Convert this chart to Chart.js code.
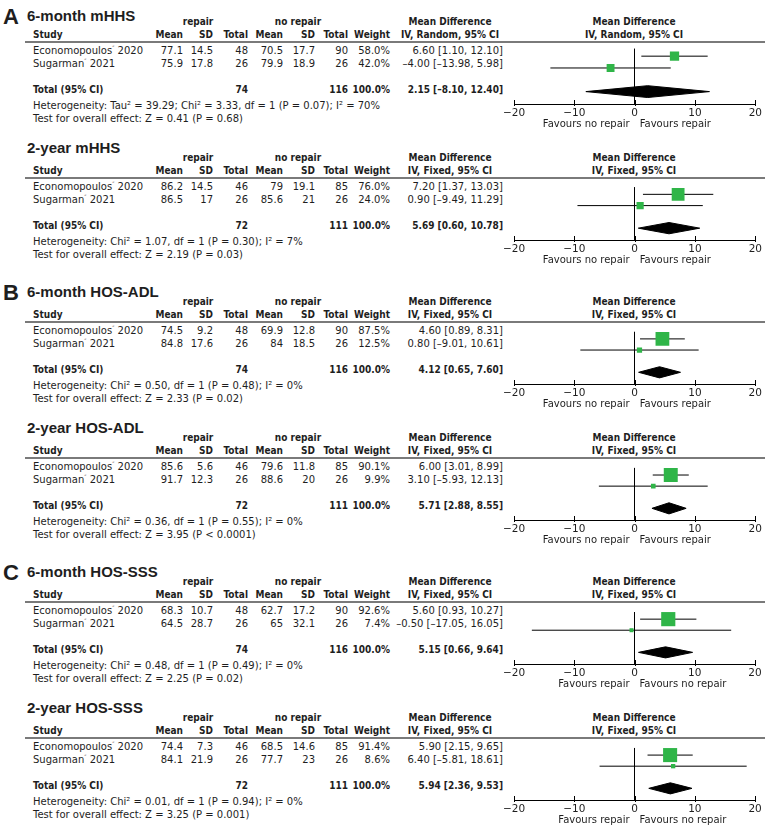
<!DOCTYPE html>
<html>
<head>
<meta charset="utf-8">
<script src="https://cdn.jsdelivr.net/npm/chart.js@4.4.1/dist/chart.umd.min.js"></script>
<style>
html, body { margin: 0; padding: 0; background: #fff; }
#fig { position: relative; width: 765px; height: 828px; overflow: hidden;
       font-family: "DejaVu Sans", sans-serif; font-size: 10px; color: #1e1e1e; }
.t { position: absolute; white-space: nowrap; line-height: 12px; }
.b { font-weight: bold; font-family: "DejaVu Sans Condensed", "DejaVu Sans", sans-serif; font-stretch: condensed; }
.ttl { font-family: "Liberation Sans", Arial, sans-serif; font-weight: bold; font-size: 15px; line-height: 18px; }
.let { font-family: "Liberation Sans", Arial, sans-serif; font-weight: bold; font-size: 22px; line-height: 24px; }
.rule { position: absolute; left: 25px; width: 740px; height: 2px; background: #7a7a7a; }
canvas { position: absolute; }
sup { font-size: 6px; vertical-align: 4px; line-height: 0; }
</style>
</head>
<body>
<div id="fig"></div>
<script>
// --- data ---
const panelLetters = ['A', '', 'B', '', 'C', ''];
const panelTitles = ['6-month mHHS', '2-year mHHS', '6-month HOS-ADL', '2-year HOS-ADL', '6-month HOS-SSS', '2-year HOS-SSS'];
const methods = ['Random', 'Fixed', 'Fixed', 'Fixed', 'Fixed', 'Fixed'];
const studyNames = ['Economopoulos', 'Sugarman'];
const studyYears = [2020, 2021];

const repairMean = [[77.1, 75.9], [86.2, 86.5], [74.5, 84.8], [85.6, 91.7], [68.3, 64.5], [74.4, 84.1]];
const repairSD = [[14.5, 17.8], [14.5, 17], [9.2, 17.6], [5.6, 12.3], [10.7, 28.7], [7.3, 21.9]];
const repairN = [[48, 26], [46, 26], [48, 26], [46, 26], [48, 26], [46, 26]];
const noRepairMean = [[70.5, 79.9], [79, 85.6], [69.9, 84], [79.6, 88.6], [62.7, 65], [68.5, 77.7]];
const noRepairSD = [[17.7, 18.9], [19.1, 21], [12.8, 18.5], [11.8, 20], [17.2, 32.1], [14.6, 23]];
const noRepairN = [[90, 26], [85, 26], [90, 26], [85, 26], [90, 26], [85, 26]];
const weights = [[58.0, 42.0], [76.0, 24.0], [87.5, 12.5], [90.1, 9.9], [92.6, 7.4], [91.4, 8.6]];

const md = [[6.60, -4.00], [7.20, 0.90], [4.60, 0.80], [6.00, 3.10], [5.60, -0.50], [5.90, 6.40]];
const ciLow = [[1.10, -13.98], [1.37, -9.49], [0.89, -9.01], [3.01, -5.93], [0.93, -17.05], [2.15, -5.81]];
const ciHigh = [[12.10, 5.98], [13.03, 11.29], [8.31, 10.61], [8.99, 12.13], [10.27, 16.05], [9.65, 18.61]];
const totalMD = [2.15, 5.69, 4.12, 5.71, 5.15, 5.94];
const totalLow = [-8.10, 0.60, 0.65, 2.88, 0.66, 2.36];
const totalHigh = [12.40, 10.78, 7.60, 8.55, 9.64, 9.53];

const heterogeneity = [
    'Tau² = 39.29; Chi² = 3.33, df = 1 (P = 0.07); I² = 70%',
    'Chi² = 1.07, df = 1 (P = 0.30); I² = 7%',
    'Chi² = 0.50, df = 1 (P = 0.48); I² = 0%',
    'Chi² = 0.36, df = 1 (P = 0.55); I² = 0%',
    'Chi² = 0.48, df = 1 (P = 0.49); I² = 0%',
    'Chi² = 0.01, df = 1 (P = 0.94); I² = 0%'
];
const overallTest = ['Z = 0.41 (P = 0.68)', 'Z = 2.19 (P = 0.03)', 'Z = 2.33 (P = 0.02)',
    'Z = 3.95 (P < 0.0001)', 'Z = 2.25 (P = 0.02)', 'Z = 3.25 (P = 0.001)'];
const favoursLeft = ['Favours no repair', 'Favours no repair', 'Favours no repair', 'Favours no repair', 'Favours repair', 'Favours repair'];
const favoursRight = ['Favours repair', 'Favours repair', 'Favours repair', 'Favours repair', 'Favours no repair', 'Favours no repair'];
const xTicks = [-20, -10, 0, 10, 20];

// --- layout ---
const fig = document.getElementById('fig');
const ruleY = [42, 178, 322, 458, 602, 738];
const titleDy = [-26, -30, -30, -30, -30, -30];
const col = { study: 33, m1: 183, sd1: 213, n1: 248, m2: 283, sd2: 315, n2: 348, w: 390, ci: 503 };
const GREEN = '#2fb548';

// if no condensed bold face is installed, tighten the bold text instead
(function () {
    const c = document.createElement('canvas').getContext('2d');
    c.font = 'bold 10px "DejaVu Sans Condensed"';
    const wc = c.measureText('100.0% Weight').width;
    c.font = 'bold 10px "DejaVu Sans"';
    const wn = c.measureText('100.0% Weight').width;
    if (Math.abs(wc - wn) < 1) {
        const st = document.createElement('style');
        st.textContent = '.b{letter-spacing:-0.55px;}';
        document.head.appendChild(st);
    }
})();

function put(x, y, html, align, cls) {
    const d = document.createElement('div');
    d.className = 't ' + (cls || '');
    d.innerHTML = html;
    d.style.left = x + 'px';
    d.style.top = y + 'px';
    const tx = align === 'r' ? '-100%' : (align === 'c' ? '-50%' : '0');
    d.style.transform = 'translate(' + tx + ',-50%)';
    fig.appendChild(d);
}
const fmt = v => v < 0 ? '–' + Math.abs(v).toFixed(2) : v.toFixed(2);
const ciText = (m, lo, hi) => fmt(m) + ' [' + fmt(lo) + ', ' + fmt(hi) + ']';

// axis ticks through the line + "Favours" labels either side of zero
const forestAxis = {
    id: 'forestAxis',
    afterDraw(chart, args, opts) {
        const { ctx, chartArea, scales: { x } } = chart;
        const y0 = chartArea.bottom;
        ctx.save();
        ctx.strokeStyle = '#000';
        ctx.lineWidth = 1;
        xTicks.forEach(v => {
            const px = Math.round(x.getPixelForValue(v)) + 0.5;
            ctx.beginPath();
            ctx.moveTo(px, y0 - 4);
            ctx.lineTo(px, y0 + 2);
            ctx.stroke();
        });
        const zx = x.getPixelForValue(0);
        ctx.font = '10px "DejaVu Sans"';
        ctx.fillStyle = '#1e1e1e';
        ctx.textBaseline = 'middle';
        ctx.textAlign = 'right';
        ctx.fillText(opts.left, zx - 5, y0 + 20.5);
        ctx.textAlign = 'left';
        ctx.fillText(opts.right, zx + 5, y0 + 20.5);
        ctx.restore();
    }
};

panelTitles.forEach((title, p) => {
    const R = ruleY[p];
    if (panelLetters[p]) put(3, R + titleDy[p] + 1, panelLetters[p], 'l', 'let');
    put(27, R + titleDy[p], title, 'l', 'ttl');

    put(198, R - 20, 'repair', 'c', 'b');
    put(298, R - 20, 'no repair', 'c', 'b');
    put(col.study, R - 7, 'Study', 'l', 'b');
    put(col.m1, R - 7, 'Mean', 'r', 'b');
    put(col.sd1, R - 7, 'SD', 'r', 'b');
    put(col.n1, R - 7, 'Total', 'r', 'b');
    put(col.m2, R - 7, 'Mean', 'r', 'b');
    put(col.sd2, R - 7, 'SD', 'r', 'b');
    put(col.n2, R - 7, 'Total', 'r', 'b');
    put(col.w, R - 7, 'Weight', 'r', 'b');
    put(450, R - 20, 'Mean Difference', 'c', 'b');
    put(450, R - 7, 'IV, ' + methods[p] + ', 95% CI', 'c', 'b');
    put(634, R - 20, 'Mean Difference', 'c', 'b');
    put(634, R - 7, 'IV, ' + methods[p] + ', 95% CI', 'c', 'b');

    const rule = document.createElement('div');
    rule.className = 'rule';
    rule.style.top = (R - 1) + 'px';
    fig.appendChild(rule);

    const rowY = [R + 8.5, R + 22];
    studyNames.forEach((name, i) => {
        const y = rowY[i];
        put(col.study, y, name + '<sup>″</sup> ' + studyYears[i], 'l');
        put(col.m1, y, repairMean[p][i], 'r');
        put(col.sd1, y, repairSD[p][i], 'r');
        put(col.n1, y, repairN[p][i], 'r');
        put(col.m2, y, noRepairMean[p][i], 'r');
        put(col.sd2, y, noRepairSD[p][i], 'r');
        put(col.n2, y, noRepairN[p][i], 'r');
        put(col.w, y, weights[p][i].toFixed(1) + '%', 'r');
        put(col.ci, y, ciText(md[p][i], ciLow[p][i], ciHigh[p][i]), 'r');
    });

    const sum = a => a.reduce((s, v) => s + v, 0);
    put(col.study, R + 48, 'Total (95% CI)', 'l', 'b');
    put(col.n1, R + 48, sum(repairN[p]), 'r', 'b');
    put(col.n2, R + 48, sum(noRepairN[p]), 'r', 'b');
    put(col.w, R + 48, sum(weights[p]).toFixed(1) + '%', 'r', 'b');
    put(col.ci, R + 48, ciText(totalMD[p], totalLow[p], totalHigh[p]), 'r', 'b');
    put(col.study, R + 63.5, 'Heterogeneity: ' + heterogeneity[p], 'l');
    put(col.study, R + 77, 'Test for overall effect: ' + overallTest[p], 'l');

    // forest plot
    const cv = document.createElement('canvas');
    cv.width = 265; cv.height = 92;
    cv.style.left = '500px';
    cv.style.top = R + 'px';
    cv.style.width = '265px';
    cv.style.height = '92px';
    fig.appendChild(cv);

    const datasets = [];
    studyNames.forEach((name, i) => {
        datasets.push({
            data: [{ x: ciLow[p][i], y: i + 1 }, { x: ciHigh[p][i], y: i + 1 }],
            borderColor: '#000', borderWidth: 1, pointRadius: 0, fill: false, order: 2
        });
    });
    datasets.push({
        data: md[p].map((v, i) => ({ x: v, y: i + 1 })),
        showLine: false, pointStyle: 'rect',
        pointRadius: weights[p].map(w => (p === 0 ? 8.6 : 10.4) * Math.sqrt(w / 100)),
        backgroundColor: GREEN, borderColor: GREEN, borderWidth: 0, order: 1
    });
    const diamondHalf = 0.5;
    datasets.push({
        data: [
            { x: totalLow[p], y: 4 },
            { x: totalMD[p], y: 4 - diamondHalf },
            { x: totalHigh[p], y: 4 },
            { x: totalMD[p], y: 4 + diamondHalf },
            { x: totalLow[p], y: 4 }
        ],
        borderColor: '#000', backgroundColor: '#000', borderWidth: 1,
        pointRadius: 0, fill: 'shape', tension: 0, order: 0
    });

    new Chart(cv, {
        type: 'line',
        data: { datasets },
        options: {
            responsive: false,
            animation: false,
            devicePixelRatio: 1,
            layout: { padding: { left: 13, right: 9, top: 0, bottom: 0 } },
            plugins: {
                legend: { display: false },
                tooltip: { enabled: false },
                forestAxis: { left: favoursLeft[p], right: favoursRight[p] }
            },
            scales: {
                x: {
                    type: 'linear', min: -20, max: 20,
                    afterBuildTicks: s => { s.ticks = xTicks.map(v => ({ value: v })); },
                    afterFit: s => { s.height = 30; },
                    border: { display: true, color: '#000', width: 1 },
                    grid: {
                        drawTicks: false,
                        color: c => (c.tick && c.tick.value === 0) ? '#000' : 'rgba(0,0,0,0)'
                    },
                    ticks: {
                        padding: 3, color: '#1e1e1e', maxRotation: 0,
                        font: { family: 'DejaVu Sans', size: 10.5 },
                        callback: v => v < 0 ? '\u2212' + Math.abs(v) : String(v)
                    }
                },
                y: { type: 'linear', reverse: true, min: 0.356, max: 5.05, display: false }
            }
        },
        plugins: [forestAxis]
    });
});
</script>
</body>
</html>
